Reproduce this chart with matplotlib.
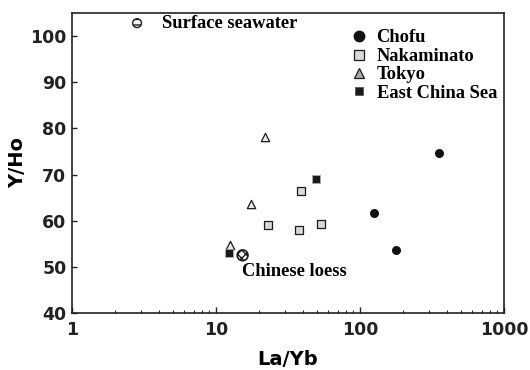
import matplotlib
matplotlib.use("Agg")
import matplotlib.pyplot as plt
from matplotlib.lines import Line2D

# Data
chofu_x = [354, 126, 177]
chofu_y = [74.6, 61.6, 53.7]
naka_x = [39.1, 22.9, 37.7, 53.3]
naka_y = [66.5, 59.0, 58.0, 59.2]
tokyo_x = [22.0, 17.5, 12.5]
tokyo_y = [78.2, 63.7, 54.8]
ecs_x = [49.7, 12.4]
ecs_y = [69.1, 53.1]
loess_x = [15.3]
loess_y = [52.5]
sea_x = [2.83]
sea_y = [102.8]

xticks = [1, 10, 100, 1000]
xticklabels = ["1", "10", "100", "1000"]
yticks = [40, 50, 60, 70, 80, 90, 100]
legend_labels = ["Chofu", "Nakaminato", "Tokyo", "East China Sea"]

plt.rcParams['hatch.linewidth'] = 1.0

fig = plt.figure(figsize=(5.3, 3.7), dpi=100)
ax = fig.add_axes([72/530, 57/370, 432/530, 300/370])

ec = "#1a1a1a"
ax.scatter(chofu_x, chofu_y, s=30, marker='o', color="#111111", zorder=3)
ax.scatter(naka_x, naka_y, s=36, marker='s', facecolor="#d8d8d8", edgecolor=ec, linewidths=0.9, zorder=3)
ax.scatter(tokyo_x, tokyo_y, s=36, marker='^', facecolor="#e8e8e8", edgecolor=ec, linewidths=0.9, zorder=3)
ax.scatter(ecs_x, ecs_y, s=30, marker='s', facecolor="#1a1a1a", edgecolor="#aaaaaa", linewidths=0.6, zorder=3)
ax.scatter(loess_x, loess_y, s=60, marker='o', facecolor="white", edgecolor=ec, hatch='xxxx', linewidths=1.2, zorder=3)
ax.scatter(sea_x, sea_y, s=40, marker='o', facecolor="white", edgecolor=ec, hatch='---', linewidths=1.0, zorder=3)

serif = {'family': ['Liberation Serif', 'DejaVu Serif'], 'weight': 'bold', 'size': 13.3}
ax.text(4.2, sea_y[0], "Surface seawater", fontdict=serif, va='center', ha='left')
ax.text(15.2, 48.9, "Chinese loess", fontdict=serif, va='center', ha='left')

ax.set_xscale('log')
ax.set_xlim(1, 1000)
ax.set_ylim(40, 105)
ax.set_xticks(xticks)
ax.set_xticklabels(xticklabels)
ax.set_yticks(yticks)

for s in ax.spines.values():
    s.set_linewidth(1.2)
    s.set_color("#222222")

ax.tick_params(axis='x', which='major', direction='in', length=4, width=1.0, pad=6,
               top=False, labelsize=12.5, colors="#222222")
ax.tick_params(axis='x', which='minor', direction='in', length=2.5, width=0.8, top=False, colors="#222222")
ax.tick_params(axis='y', which='major', direction='in', length=3.5, width=1.0, pad=4,
               right=False, labelsize=12.5, colors="#222222")
ax.tick_params(axis='y', which='minor', left=False, right=False)
for lbl in ax.get_xticklabels() + ax.get_yticklabels():
    lbl.set_fontweight('bold')
    lbl.set_fontfamily('DejaVu Sans')

ax.set_xlabel("La/Yb", fontsize=14, fontweight='bold', family='DejaVu Sans', labelpad=8)
ax.set_ylabel("Y/Ho", fontsize=14, fontweight='bold', family='DejaVu Sans', labelpad=2)

handles = [
    Line2D([], [], ls='none', marker='o', markersize=7.5, color="#111111"),
    Line2D([], [], ls='none', marker='s', markersize=6.5, markerfacecolor="#d8d8d8", markeredgecolor=ec, markeredgewidth=0.9),
    Line2D([], [], ls='none', marker='^', markersize=7, markerfacecolor="#a8a8a8", markeredgecolor=ec, markeredgewidth=0.9),
    Line2D([], [], ls='none', marker='s', markersize=6, markerfacecolor="#1a1a1a", markeredgecolor="#555555", markeredgewidth=0.6),
]
leg = ax.legend(handles, legend_labels,
                loc='upper left', bbox_to_anchor=(0.645, 0.945), frameon=False,
                prop={'family': ['Liberation Serif', 'DejaVu Serif'], 'weight': 'bold', 'size': 13.3},
                handlelength=0.9, handletextpad=0.5, borderpad=0, borderaxespad=0,
                labelspacing=0.08, numpoints=1)

fig.savefig("out.png", dpi=100)
